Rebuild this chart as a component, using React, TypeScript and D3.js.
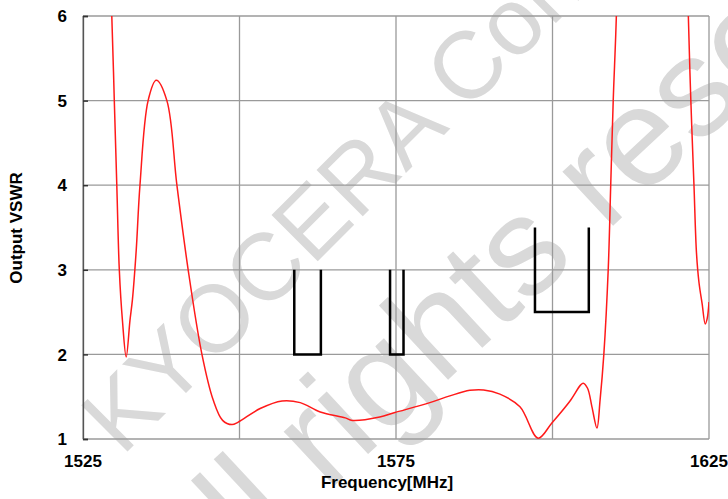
import { useEffect, useRef } from 'react'
import * as d3 from 'd3'

// output VSWR vs frequency
const freq = [
  1529.2, 1529.6, 1530.0, 1530.4, 1530.8, 1531.3, 1531.9, 1532.5, 1532.9, 1533.5,
  1534.1, 1535.4, 1536.7, 1538.4, 1540.0, 1541.8, 1544.0, 1545.8, 1547.3, 1548.8,
  1549.8, 1553.3, 1556.8, 1559.7, 1562.9, 1566.9, 1568.0, 1572.4, 1574.7, 1580.4,
  1583.6, 1586.8, 1589.0, 1591.6, 1594.8, 1597.7, 1599.9, 1602.8, 1604.5, 1604.9,
  1605.6, 1606.3, 1607.1, 1607.6, 1608.2, 1608.9, 1609.3, 1609.7, 1610.2, 1610.6,
  1621.3, 1621.7, 1622.1, 1622.6, 1623.0, 1623.4, 1623.9, 1624.4, 1624.7, 1625.0,
]
const vswr = [
  6.6, 6.0, 5.0, 4.0, 3.0, 2.4, 1.97, 2.4, 2.65, 3.23,
  4.0, 5.0, 5.24, 5.0, 4.0, 3.0, 2.0, 1.46, 1.22, 1.17,
  1.2, 1.36, 1.45, 1.43, 1.32, 1.25, 1.22, 1.26, 1.31, 1.43,
  1.51, 1.575, 1.58, 1.53, 1.38, 1.01, 1.19, 1.45, 1.64, 1.66,
  1.6, 1.38, 1.13, 1.46, 2.0, 3.0, 4.0, 5.0, 6.0, 7.5,
  7.5, 6.0, 5.0, 4.0, 3.2, 2.85, 2.6, 2.36, 2.42, 2.62,
]

// spec masks (open-top boxes)
const maskStart = [1558.75, 1574.05, 1597.2]
const maskEnd = [1563.0, 1576.2, 1605.8]
const maskLow = [2, 2, 2.5]
const maskHigh = [3, 3, 3.5]

const xGrid = [1525, 1550, 1575, 1600, 1625]
const xLabels = [1525, 1575, 1625]
const yTicks = [1, 2, 3, 4, 5, 6]

const watermark = ['KYOCERA Confidential', 'All rights reserved']

const App = () => {
  const ref = useRef<SVGSVGElement>(null)

  useEffect(() => {
    const svg = d3.select(ref.current)
    svg.selectAll('*').remove()
    const width = 728
    const height = 499
    const margin = { top: 16, right: 19, bottom: 60, left: 83 }
    const font = '"Liberation Sans", Arial, sans-serif'

    const x = d3.scaleLinear().domain([1525, 1625]).range([margin.left, width - margin.right])
    const y = d3.scaleLinear().domain([1, 6]).range([height - margin.bottom, margin.top])

    // watermark behind everything
    const wm = svg.append('g').attr('fill', '#d9d9d9').style('font-family', font)
    wm.append('text')
      .attr('transform', 'translate(122,457) rotate(-45)')
      .style('font-size', '95px')
      .text(watermark[0])
    wm.append('text')
      .attr('transform', 'translate(185,625) rotate(-43)')
      .style('font-size', '140px')
      .text(watermark[1])

    svg
      .append('defs')
      .append('clipPath')
      .attr('id', 'plot-clip')
      .append('rect')
      .attr('x', x(1525))
      .attr('y', y(6))
      .attr('width', x(1625) - x(1525))
      .attr('height', y(1) - y(6))

    const grid = svg.append('g').attr('stroke', '#9a9a9a').attr('stroke-width', 1.3)
    grid
      .selectAll('.vx')
      .data(xGrid)
      .join('line')
      .attr('x1', (d) => x(d))
      .attr('x2', (d) => x(d))
      .attr('y1', y(6))
      .attr('y2', y(1))
    grid
      .selectAll('.hy')
      .data(yTicks)
      .join('line')
      .attr('x1', x(1525))
      .attr('x2', x(1625))
      .attr('y1', (d) => y(d))
      .attr('y2', (d) => y(d))

    // left axis line + inward ticks
    const yAxis = svg.append('g').attr('transform', `translate(${x(1525)},0)`)
    yAxis
      .call(d3.axisRight(y).tickValues(yTicks).tickSize(5).tickFormat(() => ''))
      .call((g) => g.select('.domain').attr('stroke', '#555').attr('stroke-width', 1.3))
      .call((g) => g.selectAll('.tick line').attr('stroke', '#333').attr('stroke-width', 1.5))

    svg
      .append('g')
      .style('font-family', font)
      .style('font-weight', 'bold')
      .style('font-size', '17px')
      .selectAll('text')
      .data(yTicks)
      .join('text')
      .attr('x', 67)
      .attr('y', (d) => y(d))
      .attr('dy', '0.36em')
      .attr('text-anchor', 'end')
      .text((d) => d)

    svg
      .append('g')
      .style('font-family', font)
      .style('font-weight', 'bold')
      .style('font-size', '17px')
      .selectAll('text')
      .data(xLabels)
      .join('text')
      .attr('x', (d) => x(d))
      .attr('y', 467)
      .attr('text-anchor', 'middle')
      .text((d) => d)

    svg
      .append('text')
      .attr('x', 387)
      .attr('y', 488)
      .attr('text-anchor', 'middle')
      .style('font-family', font)
      .style('font-weight', 'bold')
      .style('font-size', '17px')
      .text('Frequency[MHz]')

    svg
      .append('text')
      .attr('transform', 'translate(22,228) rotate(-90)')
      .attr('text-anchor', 'middle')
      .style('font-family', font)
      .style('font-weight', 'bold')
      .style('font-size', '17px')
      .text('Output VSWR')

    // masks
    svg
      .append('g')
      .attr('fill', 'none')
      .attr('stroke', '#000')
      .attr('stroke-width', 2.5)
      .selectAll('path')
      .data(maskStart)
      .join('path')
      .attr('d', (d, i) => {
        const p = d3.path()
        p.moveTo(x(d), y(maskHigh[i]))
        p.lineTo(x(d), y(maskLow[i]))
        p.lineTo(x(maskEnd[i]), y(maskLow[i]))
        p.lineTo(x(maskEnd[i]), y(maskHigh[i]))
        return p.toString()
      })

    const line = d3
      .line<number>()
      .x((d) => x(d))
      .y((d, i) => y(vswr[i]))
      .curve(d3.curveCatmullRom.alpha(0.5))

    svg
      .append('path')
      .datum(freq)
      .attr('clip-path', 'url(#plot-clip)')
      .attr('fill', 'none')
      .attr('stroke', '#ff1a1a')
      .attr('stroke-width', 1.5)
      .attr('d', line)
  }, [])

  return (
    <svg
      ref={ref}
      width={728}
      height={499}
      style={{ position: 'absolute', left: 0, top: 0, background: '#fff' }}
    />
  )
}

export default App
